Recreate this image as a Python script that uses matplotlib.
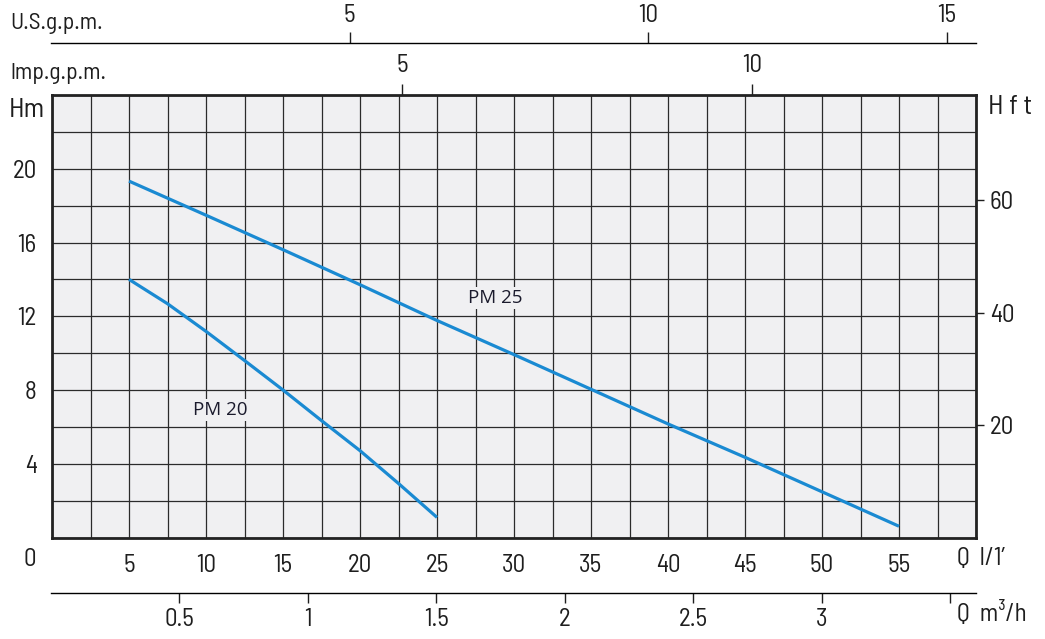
import numpy as np
import matplotlib
matplotlib.use("Agg")
import matplotlib.pyplot as plt
from matplotlib.ticker import MultipleLocator, FixedLocator

# pump curves, Q in l/min, H in m
FLOW_PM25 = [5, 10, 15, 20, 25, 30, 35, 40, 45, 50, 55]
HEAD_PM25 = [19.33, 17.48, 15.61, 13.71, 11.77, 9.92, 8.04, 6.16, 4.35, 2.48, 0.61]
FLOW_PM20 = [5, 7.5, 10, 12.5, 15, 17.5, 20, 22.5, 25]
HEAD_PM20 = [14.0, 12.68, 11.18, 9.6, 8.0, 6.34, 4.71, 2.93, 1.09]

LPM_TICKS = [5, 10, 15, 20, 25, 30, 35, 40, 45, 50, 55]
HM_TICKS = [4, 8, 12, 16, 20]
HFT_TICKS = [20, 40, 60]
IMP_TICKS = [5, 10]
US_TICKS = [5, 10, 15]
M3H_TICKS = [0.5, 1, 1.5, 2, 2.5, 3, 3.5]
M3H_LABELS = ["0.5", "1", "1.5", "2", "2.5", "3", ""]

LPM_PER_IMP = 4.546
LPM_PER_US = 3.875      # as drawn on the sheet
LPM_PER_M3H = 1000 / 60
FT_PER_M = 3.281

NARROW = ["Barlow Semi Condensed", "Roboto Condensed", "Liberation Sans Narrow", "DejaVu Sans"]
BG = "#f0f0f2"
BLUE = "#1a8ad2"
INK = "#1e1e1e"
NUM = 18

W, H = 1045, 639
plt.rcParams["font.family"] = NARROW
fig = plt.figure(figsize=(W / 100, H / 100), dpi=100)


def fx(px):
    return px / W


def fy(py):
    return 1 - py / H


L, R, T, B = 52, 976, 95, 537.5
ax = fig.add_axes([fx(L), fy(B), fx(R - L), fy(T) - fy(B)])
ax.set_facecolor(BG)
ax.set_xlim(0, 60)
ax.set_ylim(0, 24)
ax.xaxis.set_major_locator(FixedLocator(LPM_TICKS))
ax.xaxis.set_minor_locator(MultipleLocator(2.5))
ax.yaxis.set_major_locator(FixedLocator(HM_TICKS))
ax.yaxis.set_minor_locator(MultipleLocator(2))
ax.grid(which="both", color="#2b2b2b", lw=0.9)
ax.set_axisbelow(True)
ax.tick_params(which="both", length=0)
ax.tick_params(axis="x", pad=12, labelsize=NUM, colors=INK)
ax.tick_params(axis="y", pad=11, labelsize=NUM, colors=INK)
for s in ax.spines.values():
    s.set_linewidth(2.0)
    s.set_color("#222222")

ax.plot(FLOW_PM25, HEAD_PM25, color=BLUE, lw=2.3, solid_capstyle="butt", zorder=3)
ax.plot(FLOW_PM20, HEAD_PM20, color=BLUE, lw=2.3, solid_capstyle="butt", zorder=3)
box = dict(facecolor=BG, edgecolor="none", pad=1.5)
ax.text(28.75, 13.0, "PM 25", family=["Open Sans", "DejaVu Sans"], fontsize=13.5,
        weight="medium", color="#1a1a2c", ha="center", va="center", bbox=box, zorder=4)
ax.text(10.95, 6.92, "PM 20", family=["Open Sans", "DejaVu Sans"], fontsize=13.5,
        weight="medium", color="#1a1a2c", ha="center", va="center", bbox=box, zorder=4)

# right: feet
ft = ax.secondary_yaxis("right", functions=(lambda m: m * FT_PER_M, lambda f: f / FT_PER_M))
ft.set_yticks(HFT_TICKS)
ft.tick_params(length=6, width=1, pad=4, labelsize=NUM, colors=INK)
ft.spines["right"].set_visible(False)

# top: imperial gallons per minute
imp = ax.secondary_xaxis("top", functions=(lambda q: q / LPM_PER_IMP, lambda g: g * LPM_PER_IMP))
imp.set_xticks(IMP_TICKS)
imp.tick_params(length=8, width=1, pad=5, labelsize=NUM, colors=INK)
imp.spines["top"].set_visible(False)

# uppermost: US gallons per minute, its own line
us = fig.add_axes([fx(L - 1), fy(43.5), fx(R - L + 1), 0.0005])
us.set_xlim(0, 60 / LPM_PER_US)
us.set_facecolor("none")
for k in ("left", "right", "bottom"):
    us.spines[k].set_visible(False)
us.spines["top"].set_linewidth(1.0)
us.set_yticks([])
us.xaxis.tick_top()
us.set_xticks(US_TICKS)
us.tick_params(length=8, width=1, pad=4, labelsize=NUM, colors=INK)

# bottom: cubic metres per hour
m3 = fig.add_axes([fx(L - 1), fy(592.5), fx(R - L + 1), 0.0005])
m3.set_xlim(0, 60 / LPM_PER_M3H)
m3.set_facecolor("none")
for k in ("left", "right", "top"):
    m3.spines[k].set_visible(False)
m3.spines["bottom"].set_linewidth(1.0)
m3.set_yticks([])
m3.set_xticks(M3H_TICKS)
m3.set_xticklabels(M3H_LABELS)
m3.tick_params(length=7, width=1, pad=4, labelsize=NUM, colors=INK)

# loose labels
fig.text(fx(9), fy(110), "Hm", fontsize=20, color=INK, ha="left", va="center")
fig.text(fx(988), fy(107), "H f t", fontsize=20, color=INK, ha="left", va="center")
fig.text(fx(10), fy(29), "U.S.g.p.m.", fontsize=17, color=INK, ha="left", va="baseline")
fig.text(fx(10), fy(79), "lmp.g.p.m.", fontsize=17, color=INK, ha="left", va="baseline")
fig.text(fx(30), fy(560), "0", fontsize=NUM, color=INK, ha="center", va="center")
fig.text(fx(957), fy(558), "Q  l/1\u2019", fontsize=18, color=INK, ha="left", va="center")
fig.text(fx(957), fy(613), "Q  m\u00b3/h", fontsize=18, color=INK, ha="left", va="center")

fig.savefig("out.png", dpi=100, facecolor="white")
